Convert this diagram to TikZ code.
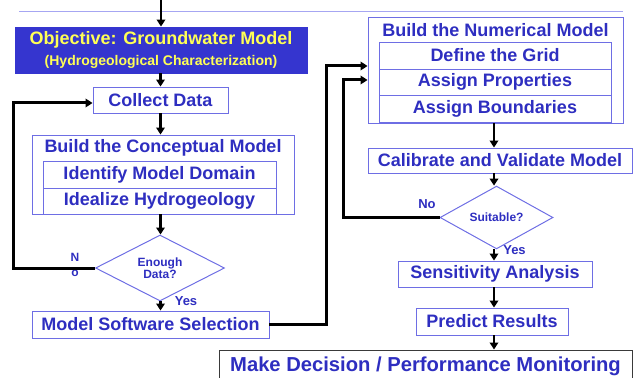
\documentclass[tikz,border=0pt]{standalone}
\usepackage{fontspec}
\setmainfont{Liberation Sans}
\usetikzlibrary{shapes.geometric,arrows.meta,calc}
\definecolor{tb}{HTML}{2E2EC0}
\definecolor{bd}{HTML}{6E6EE4}
\definecolor{objfill}{HTML}{3535CF}
\definecolor{yel}{HTML}{FFFF55}
\definecolor{tline}{HTML}{A6A6F2}
\definecolor{mkbd}{HTML}{3A3A3A}
\begin{document}
\begin{tikzpicture}[x=1pt,y=-1pt,
  every node/.style={text=tb,inner sep=0pt},
  box/.style={draw=bd,line width=0.9pt},
  big/.style={font=\bfseries\fontsize{18}{20}\selectfont},
  small/.style={font=\bfseries\fontsize{12}{12.5}\selectfont},
  lbl/.style={font=\bfseries\fontsize{13}{14}\selectfont},
  dia/.style={draw=bd,line width=1pt,diamond,align=center},
  arr/.style={line width=2.5pt,-{Triangle[width=8.5pt,length=7pt]}},
  fb/.style={line width=3pt,-{Triangle[width=8.5pt,length=7pt]}},
  topline/.style={draw=tline,line width=0.8pt}]
\useasboundingbox (0,0) rectangle (636,377);
\clip (0,0) rectangle (636,377);
\draw[topline] (19,11) -- (623,11);

% left column
\node[box,fill=objfill,draw=objfill,minimum width=292,minimum height=46] (obj) at (161,50) {};
\node[font=\bfseries\fontsize{18}{20}\selectfont,text=yel] (objt) at (161,40) {Objective: Groundwater Model};
\node[font=\bfseries\fontsize{14}{16}\selectfont,text=yel] (objs) at (161,62) {(Hydrogeological Characterization)};
\node[box,big,minimum width=135,minimum height=26] (collect) at (160.5,100) {Collect Data};
\node[box,minimum width=262,minimum height=79] (concept) at (163,174.5) {};
\node[big] (ctitle) at (163,148) {Build the Conceptual Model};
\node[box,big,minimum width=233,minimum height=27] (idm) at (159.5,174.5) {Identify Model Domain};
\node[box,big,minimum width=233,minimum height=26] (ihy) at (159.5,201) {Idealize Hydrogeology};
\node[dia,small,minimum width=129,minimum height=44] (enough) at (160,268) {Enough\\Data?};
\node[small] (nN) at (75,257) {N};
\node[small] (no) at (75,273) {o};
\node[lbl] (yes1) at (186,301) {Yes};
\node[box,big,minimum width=237,minimum height=27] (mss) at (150.5,324.5) {Model Software Selection};

% right column
\node[box,minimum width=255,minimum height=106] (num) at (495.5,70) {};
\node[big] (ntitle) at (495.5,30) {Build the Numerical Model};
\node[box,big,minimum width=232,minimum height=27] (grid) at (495,55.5) {Define the Grid};
\node[box,big,minimum width=232,minimum height=26] (prop) at (495,82) {Assign Properties};
\node[box,big,minimum width=232,minimum height=27] (bnd) at (495,108.5) {Assign Boundaries};
\node[box,big,minimum width=264,minimum height=25] (cal) at (500,160.5) {Calibrate and Validate Model};
\node[dia,small,minimum width=113,minimum height=41] (suit) at (496.5,217.5) {Suitable?};
\node[lbl] (no2) at (427,204) {No};
\node[box,big,minimum width=194,minimum height=26] (sens) at (495,274) {Sensitivity Analysis};
\node[lbl] (yes2) at (514.5,250) {Yes};
\node[box,big,minimum width=152,minimum height=27] (pred) at (492,321.5) {Predict Results};
\node[draw=mkbd,line width=1pt,font=\bfseries\fontsize{20.2}{22}\selectfont,minimum width=413,minimum height=32] (make) at (425.5,366) {Make Decision / Performance Monitoring};

% column coordinates
\coordinate (top) at (161,0);
\coordinate (colL) at (160.5,0);
\coordinate (colR) at (494,0);
\coordinate (fbL) at (13,0);
\coordinate (fbM) at (326,0);
\coordinate (fbS) at (343,0);

% arrows
\draw[arr] (top) -- (top |- obj.north);
\draw[arr] (obj.south -| colL) -- (collect.north -| colL);
\draw[arr] (collect.south -| colL) -- (concept.north -| colL);
\draw[arr] (concept.south -| colL) -- (enough.north -| colL);
\draw[arr] (enough.south -| colL) -- (mss.north -| colL);

\draw[arr] (num.south -| colR) -- (cal.north -| colR);
\draw[arr] (cal.south -| colR) -- (suit.north -| colR);
\draw[arr] (suit.south -| colR) -- (sens.north -| colR);
\draw[arr] (sens.south -| colR) -- (pred.north -| colR);
\draw[arr] (pred.south -| colR) -- (make.north -| colR);

% feedback lines
\draw[fb] (enough.west) -- (enough.west -| fbL) |- ([yshift=-3pt]collect.west);
\draw[fb] (mss.east) -- (mss.east -| fbM) |- ([yshift=4pt]num.west);
\draw[fb] (suit.west) -- (suit.west -| fbS) |- ([yshift=-10pt]num.west);
\end{tikzpicture}
\end{document}
